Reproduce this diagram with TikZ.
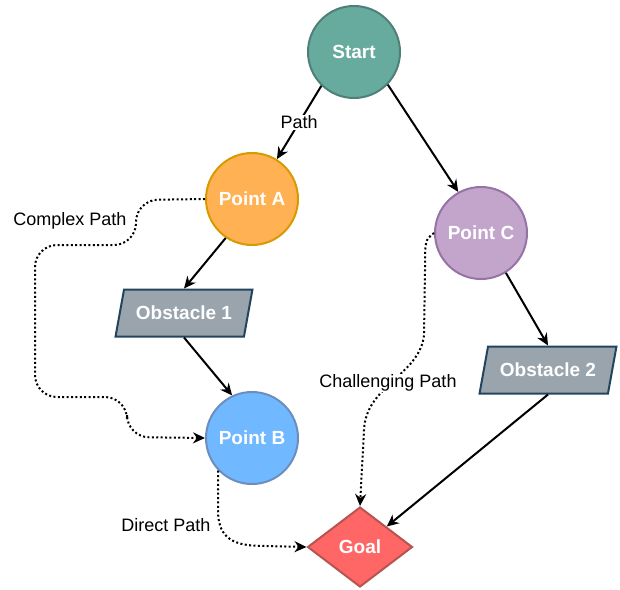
\documentclass[tikz,border=0pt]{standalone}
\usepackage{fontspec}
\setmainfont{Liberation Sans}
\usetikzlibrary{shapes.geometric,arrows.meta}
\definecolor{startfill}{HTML}{67AB9F}
\definecolor{startline}{HTML}{4F8077}
\definecolor{afill}{HTML}{FFB153}
\definecolor{aline}{HTML}{D79B00}
\definecolor{bfill}{HTML}{70B8FF}
\definecolor{bline}{HTML}{6C8EBF}
\definecolor{cfill}{HTML}{C3A5CC}
\definecolor{cline}{HTML}{9673A6}
\definecolor{obsfill}{HTML}{99A4AC}
\definecolor{obsline}{HTML}{23445D}
\definecolor{goalfill}{HTML}{FF6666}
\definecolor{goalline}{HTML}{B85450}
\begin{document}
\begin{tikzpicture}[x=1pt,y=-1pt,
    point/.style={circle,draw,line width=2pt,minimum size=92pt,inner sep=0pt,
        font=\fontsize{19}{22}\selectfont\bfseries,text=white},
    obstacle/.style={trapezium,trapezium left angle=64,trapezium right angle=116,
        trapezium stretches=true,minimum width=137pt,minimum height=47pt,inner sep=0pt,
        draw=obsline,fill=obsfill,line width=2pt,
        font=\fontsize{19}{22}\selectfont\bfseries,text=white},
    goalbox/.style={diamond,minimum width=105pt,minimum height=80pt,inner sep=0pt,
        draw=goalline,fill=goalfill,line width=2pt,
        font=\fontsize{19}{22}\selectfont\bfseries,text=white},
    link/.style={-{Stealth[length=12pt,width=11pt]},line width=2pt},
    dotlink/.style={link,dash pattern=on 2pt off 2.4pt},
    lbl/.style={font=\fontsize{18}{22}\selectfont,fill=white,inner sep=1pt}]
    \useasboundingbox (0,0) rectangle (620,589);
    \node[point,draw=startline,fill=startfill] (start) at (354,52) {Start};
    \node[point,draw=aline,fill=afill] (pa) at (252,199) {Point A};
    \node[point,draw=cline,fill=cfill] (pc) at (481,233) {Point C};
    \node[point,draw=bline,fill=bfill] (pb) at (252,438) {Point B};
    \node[obstacle] (obs1) at (184,313) {Obstacle 1};
    \node[obstacle] (obs2) at (548,370) {Obstacle 2};
    \node[goalbox] (goal) at (360,547) {Goal};
    \draw[link] (start.226) -- node[lbl] (pathlbl) {Path} (pa.58);
    \draw[link] (start.316) -- (pc.119);
    \draw[link] (pa.236) -- (obs1.north);
    \draw[link] (obs1.south) -- (pb.115);
    \draw[link] (pc.302) -- (obs2.north);
    \draw[link] (obs2.south) -- (goal.north east);
    \draw[dotlink,rounded corners=22pt] (pa.west) -- (136,200) -- (136,245) -- (35,245)
        -- (35,397) -- (127,397) -- (127,437) -- (pb.west);
    \node[lbl] (complex) at (70,221) {Complex Path};
    \draw[dotlink] (pc.west) .. controls (425,240) .. (425,270) -- (424,335)
        .. controls (420,375) and (366,385) .. (364,430) -- (goal.north);
    \node[lbl] (challenge) at (388,383) {Challenging Path};
    \draw[dotlink] (pb.224) -- (218,510) .. controls (218,540) and (235,546) .. (265,546)
        -- (goal.west);
    \node[lbl] (direct) at (166,525) {Direct Path};
\end{tikzpicture}
\end{document}
